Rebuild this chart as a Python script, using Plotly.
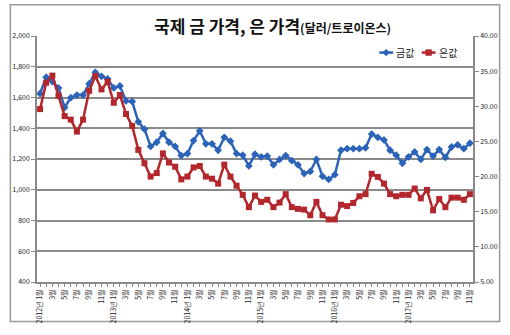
import plotly.graph_objects as go

years = [2012, 2013, 2014, 2015, 2016, 2017]
months_per_year = [12, 12, 12, 12, 12, 11]

gold = [1626, 1732, 1704, 1662, 1535, 1599, 1616, 1616, 1690, 1764, 1738, 1721,
        1662, 1675, 1578, 1574, 1442, 1394, 1282, 1309, 1366, 1309, 1282, 1222,
        1235, 1320, 1383, 1299, 1299, 1257, 1341, 1316, 1235, 1225, 1155, 1231,
        1214, 1219, 1162, 1197, 1222, 1189, 1162, 1105, 1119, 1197, 1087, 1067,
        1098, 1257, 1267, 1267, 1267, 1273, 1362, 1341, 1324, 1257, 1225, 1172,
        1214, 1246, 1197, 1261, 1219, 1261, 1210, 1278, 1292, 1267, 1303]

silver = [29.6, 33.35, 34.36, 31.5, 28.6, 28.1, 26.4, 28.1, 32.2, 34.3, 32.4, 33.5,
          30.5, 31.6, 28.9, 27.2, 23.8, 21.9, 20.0, 20.5, 23.3, 22.0, 21.4, 19.6,
          20.0, 21.3, 21.5, 20.0, 19.7, 19.0, 21.7, 20.0, 18.7, 17.4, 15.65, 17.3,
          16.4, 16.7, 15.65, 16.3, 17.5, 15.65, 15.4, 15.3, 14.5, 16.4, 14.5, 13.9,
          13.9, 16.0, 15.8, 16.25, 17.2, 17.5, 20.4, 19.95, 19.0, 17.5, 17.2, 17.4,
          17.4, 18.3, 16.9, 18.1, 15.2, 16.8, 15.65, 17.0, 17.0, 16.7, 17.5]

series_names = ["금값", "은값"]

# category labels
labels = []
for y, n in zip(years, months_per_year):
    for m in range(1, n + 1):
        labels.append(f"{y}년 {m}월" if m == 1 else f"{m}월")

x = list(range(len(labels)))
tickvals = [i for i in x if i % 2 == 0]
ticktext = [labels[i] for i in tickvals]

FONT = "Noto Sans CJK KR"
GOLD_C = "#2b63b8"
SILV_C = "#b2262c"
GRID_C = "#8a8a8a"

fig = go.Figure()
fig.add_trace(go.Scatter(
    x=x, y=gold, name=series_names[0], mode="lines+markers",
    line=dict(color=GOLD_C, width=2.5),
    marker=dict(symbol="diamond", size=6, color=GOLD_C),
    yaxis="y", showlegend=False))
fig.add_trace(go.Scatter(
    x=x, y=silver, name=series_names[1], mode="lines+markers",
    line=dict(color=SILV_C, width=2.5),
    marker=dict(symbol="square", size=6, color=SILV_C),
    yaxis="y2", showlegend=False))

L, R, T, B = 33, 35, 36, 46.5
W, H = 510, 335
pw = W - L - R
ph = H - T - B

def px(v):
    return (v - L) / pw

def py(v):
    return (H - B - v) / ph

shapes = [dict(type="rect", xref="paper", yref="paper",
               x0=px(6), x1=px(502), y0=py(329), y1=py(4),
               line=dict(color="#9a9a9a", width=1.5), fillcolor="rgba(0,0,0,0)",
               layer="below")]
annotations = [dict(
    xref="paper", yref="paper", x=px(272), y=py(25),
    xanchor="center", yanchor="middle", showarrow=False,
    text="<b>국제 금 가격, 은 가격</b><b><span style='font-size:12px'>(달러/트로이온스)</span></b>",
    font=dict(family=FONT, size=17, color="#111"))]

# custom compact legend
leg_y = 53
legend_items = [(380, GOLD_C, "diamond", series_names[0]),
                (423, SILV_C, "square", series_names[1])]
for x0, col, sym, name in legend_items:
    cx = x0 + 7
    shapes.append(dict(type="line", xref="paper", yref="paper",
                       x0=px(x0), x1=px(x0 + 14), y0=py(leg_y), y1=py(leg_y),
                       line=dict(color=col, width=2.5)))
    if sym == "diamond":
        d = 3.5
        path = (f"M {px(cx-d)},{py(leg_y)} L {px(cx)},{py(leg_y-d)} "
                f"L {px(cx+d)},{py(leg_y)} L {px(cx)},{py(leg_y+d)} Z")
    else:
        d = 3
        path = (f"M {px(cx-d)},{py(leg_y-d)} L {px(cx+d)},{py(leg_y-d)} "
                f"L {px(cx+d)},{py(leg_y+d)} L {px(cx-d)},{py(leg_y+d)} Z")
    shapes.append(dict(type="path", xref="paper", yref="paper", path=path,
                       fillcolor=col, line=dict(color=col, width=0.5)))
    annotations.append(dict(xref="paper", yref="paper", x=px(x0 + 15), y=py(leg_y),
                            xanchor="left", yanchor="middle", showarrow=False,
                            text=name, font=dict(family=FONT, size=10, color="#222")))

fig.update_layout(
    width=W, height=H,
    margin=dict(l=L, r=R, t=T, b=B, pad=0),
    paper_bgcolor="white", plot_bgcolor="white",
    font=dict(family=FONT, size=7, color="#222"),
    showlegend=False,
    xaxis=dict(range=[-0.5, len(x) - 0.5], tickmode="array",
               tickvals=tickvals, ticktext=ticktext, tickangle=-90,
               ticks="outside", ticklen=3, tickcolor=GRID_C,
               minor=dict(ticks="outside", dtick=1, tick0=0, ticklen=3, tickcolor=GRID_C),
               showgrid=False, showline=True, linecolor=GRID_C, linewidth=1.5,
               zeroline=False, tickfont=dict(size=7, family=FONT)),
    yaxis=dict(range=[400, 2000], dtick=200, tick0=400, tickformat=",",
               showgrid=True, gridcolor=GRID_C, gridwidth=1.6,
               showline=True, linecolor=GRID_C, linewidth=1.5,
               ticks="outside", ticklen=4, tickcolor=GRID_C,
               zeroline=False, tickfont=dict(size=7, family=FONT)),
    yaxis2=dict(range=[5, 40], dtick=5, tick0=5, tickformat=".2f",
                overlaying="y", side="right", showgrid=False,
                showline=True, linecolor=GRID_C, linewidth=1.5,
                ticks="outside", ticklen=4, tickcolor=GRID_C,
                zeroline=False, tickfont=dict(size=7, family=FONT)),
    shapes=shapes,
    annotations=annotations,
)

fig.write_html("out.html")
